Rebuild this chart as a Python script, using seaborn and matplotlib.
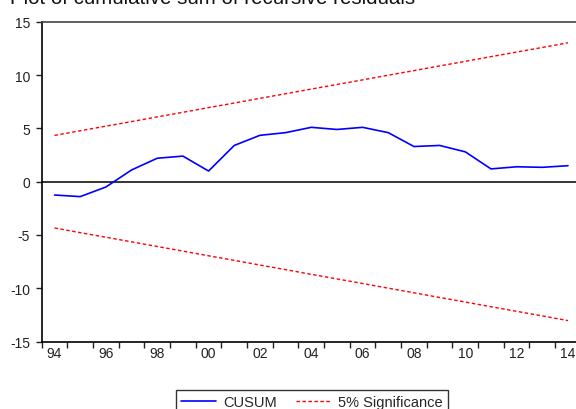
import matplotlib
matplotlib.use("Agg")
import matplotlib.pyplot as plt
import seaborn as sns
import pandas as pd

# annual observations, 1994-2014
years = list(range(1994, 2015))
cusum = [-1.25, -1.4, -0.5, 1.1, 2.2, 2.4, 1.0, 3.4, 4.35, 4.6, 5.1,
         4.9, 5.1, 4.6, 3.3, 3.4, 2.8, 1.2, 1.4, 1.35, 1.5]
upper = [4.34, 4.78, 5.21, 5.64, 6.08, 6.51, 6.95, 7.38, 7.82, 8.25, 8.69,
         9.12, 9.55, 9.99, 10.42, 10.86, 11.29, 11.73, 12.16, 12.59, 13.03]
lower = [-4.34, -4.78, -5.21, -5.64, -6.08, -6.51, -6.95, -7.38, -7.82, -8.25, -8.69,
         -9.12, -9.55, -9.99, -10.42, -10.86, -11.29, -11.73, -12.16, -12.59, -13.03]
y_ticks = [-15, -10, -5, 0, 5, 10, 15]
x_labels = ["94", "96", "98", "00", "02", "04", "06", "08", "10", "12", "14"]

df = pd.DataFrame({"year": years, "cusum": cusum, "upper": upper, "lower": lower})

sns.set_theme(style="white")
plt.rcParams["font.family"] = ["Liberation Sans", "DejaVu Sans"]

fig = plt.figure(figsize=(5.76, 4.10), dpi=100)
ax = fig.add_axes([0.0724, 0.1644, 0.936, 0.780])

sns.lineplot(data=df, x="year", y="cusum", ax=ax, color="#0000FF", lw=1.2,
             label="CUSUM")
sns.lineplot(data=df, x="year", y="upper", ax=ax, color="#FF0000", lw=1.0,
             dashes=False, label="5% Significance")
sns.lineplot(data=df, x="year", y="lower", ax=ax, color="#FF0000", lw=1.0,
             dashes=False)
for ln in ax.lines[1:]:
    ln.set_dashes((2.5, 1.8))

ax.axhline(0, color="black", lw=1.1, zorder=1)

ax.set_xlim(1993.5, 2014.5)
ax.set_ylim(-15, 15)
ax.set_yticks(y_ticks)
ax.set_yticklabels([str(v) for v in y_ticks])

# ticks at year boundaries, labels on even years in the middle
ax.set_xticks([y - 0.5 for y in years] + [2014.5])
ax.set_xticklabels([])
ax.set_xticks(years[::2], minor=True)
ax.set_xticklabels(x_labels, minor=True)
ax.tick_params(axis="x", which="major", direction="out", length=4.5, width=1.0,
               color="#222222", bottom=True)
ax.tick_params(axis="x", which="minor", length=0, pad=3, labelsize=10,
               labelcolor="#222222", bottom=True)
ax.tick_params(axis="y", direction="out", length=4.5, width=1.0, pad=4,
               labelsize=10, labelcolor="#222222", color="#222222", left=True)

ax.set_xlabel("")
ax.set_ylabel("")
for side in ["left", "bottom"]:
    ax.spines[side].set_color("black")
    ax.spines[side].set_linewidth(1.2)
ax.spines["top"].set_color("#444444")
ax.spines["top"].set_linewidth(1.2)
ax.spines["right"].set_visible(False)

leg = ax.legend(loc="upper center", bbox_to_anchor=(0.541, 0.0463),
                bbox_transform=fig.transFigure, ncol=2, frameon=True,
                fancybox=False, edgecolor="black", fontsize=10.5,
                handlelength=2.4, columnspacing=1.3, borderpad=0.35,
                handletextpad=0.5, borderaxespad=0)
leg.get_frame().set_linewidth(1.0)

fig.text(0.017, 0.99, "Plot of cumulative sum of recursive residuals",
         fontsize=14.8, va="baseline", ha="left", color="#111111")

fig.savefig("out.png", dpi=100)
